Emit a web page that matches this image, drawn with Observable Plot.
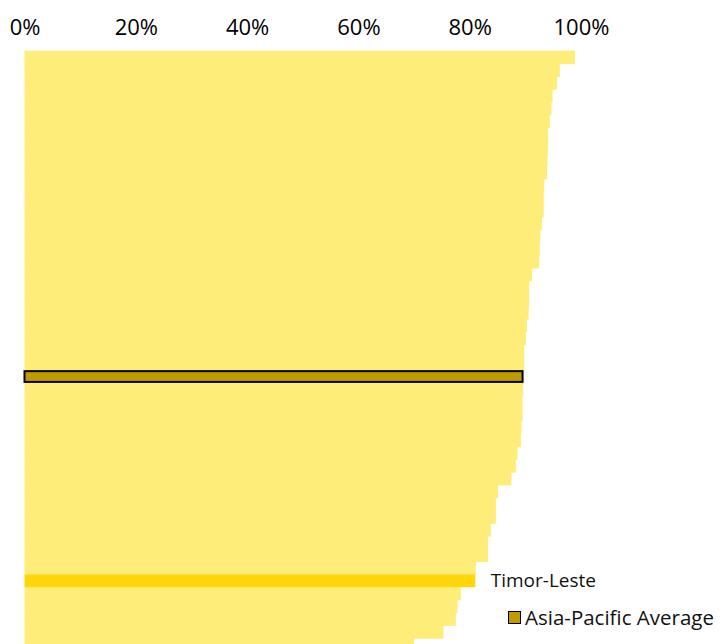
<!DOCTYPE html>
<html>
<head>
<meta charset="utf-8">
<script src="https://cdn.jsdelivr.net/npm/d3@7"></script>
<script src="https://cdn.jsdelivr.net/npm/@observablehq/plot@0.6"></script>
<style>
  html, body { margin: 0; padding: 0; overflow: hidden; background: #fff; }
  #wrap { position: relative; width: 727px; }
  .legend { position: absolute; left: 508px; top: 603px; font-family: "Open Sans", Lato, sans-serif; font-size: 20.5px; color: #111; display: flex; align-items: center; gap: 4px; white-space: nowrap; }
  .legend .sw { width: 11px; height: 11px; background: #BF9B00; border: 1.5px solid #000; }
</style>
</head>
<body>
<div id="wrap"></div>
<script>
// Categories (top to bottom); only two are identifiable in the reference
const countries = [
  "C01","C02","C03","C04","C05","C06","C07","C08","C09","C10",
  "C11","C12","C13","C14","C15","C16","C17","C18","C19","C20",
  "C21","C22","C23","C24","C25","Asia-Pacific Average","C27","C28","C29","C30",
  "C31","C32","C33","C34","C35","C36","C37","C38","C39","C40",
  "C41","Timor-Leste","C43","C44","C45","C46","C47"
];
// Share (%)
const values = [
  98.9, 96.2, 95.7, 94.9, 94.7, 94.4, 94.1, 94.1, 94.0, 93.9,
  93.4, 93.3, 93.3, 93.0, 92.7, 92.6, 92.5, 91.2, 90.7, 90.7,
  90.6, 90.3, 90.1, 89.8, 89.8, 89.5, 89.6, 89.5, 89.5, 89.3,
  89.2, 88.6, 88.3, 87.5, 85.1, 84.7, 84.7, 83.8, 83.3, 83.3,
  81.1, 81.0, 78.4, 77.8, 77.5, 75.3, 70.0
];
const xTicks = [0, 20, 40, 60, 80, 100];
const highlight = "Timor-Leste";
const average = "Asia-Pacific Average";

const data = countries.map((c, i) => ({country: c, value: values[i]}));
const kind = d => d.country === highlight ? "hl" : d.country === average ? "avg" : "other";

const chart = Plot.plot({
  width: 727,
  height: 661,
  marginLeft: 24.5,
  marginRight: 146,
  marginTop: 51,
  marginBottom: 10,
  style: {fontFamily: "'Open Sans', Lato, sans-serif", background: "#fff"},
  x: {domain: [0, 100], axis: "top", ticks: xTicks, tickFormat: d => d + "%", tickSize: 0, tickPadding: 17, label: null},
  y: {domain: countries, axis: null, padding: 0},
  color: {domain: ["other", "hl", "avg"], range: ["#FFED7A", "#FFD60A", "#BF9B00"]},
  marks: [
    Plot.barX(data.filter(d => kind(d) === "other"), {x: "value", y: "country", fill: d => kind(d), insetTop: -0.4, insetBottom: -0.4}),
    Plot.barX(data.filter(d => kind(d) === "hl"), {x: "value", y: "country", fill: d => kind(d)}),
    Plot.barX(data.filter(d => kind(d) === "avg"), {x: "value", y: "country", fill: d => kind(d), stroke: "#000", strokeWidth: 2, insetTop: 1, insetBottom: 1}),
    Plot.text(data.filter(d => d.country === highlight), {x: "value", y: "country", text: "country", textAnchor: "start", dx: 15, fontSize: 19, fill: "#111"})
  ]
});
chart.querySelectorAll("g[aria-label='x-axis tick label']").forEach(n => n.setAttribute("font-size", "22"));
document.getElementById("wrap").appendChild(chart);
const lg = document.createElement("div");
lg.className = "legend";
lg.innerHTML = `<span class="sw"></span><span>${average}</span>`;
document.getElementById("wrap").appendChild(lg);
</script>
</body>
</html>
